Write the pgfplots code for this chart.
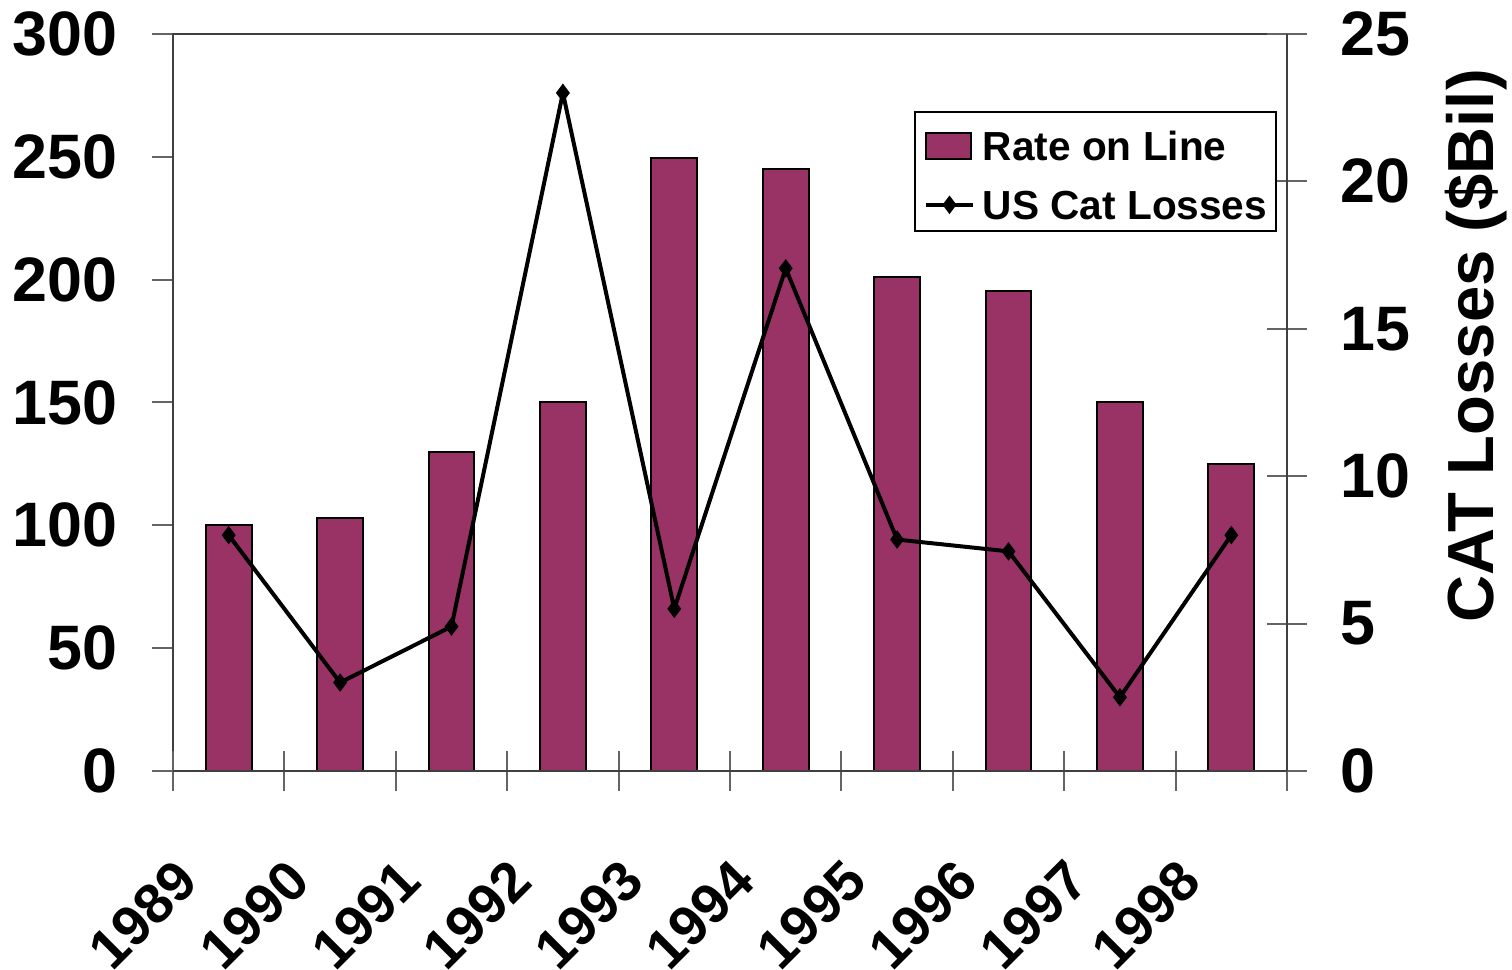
\documentclass[border=0pt]{standalone}
\usepackage{fontspec}
\setmainfont{Liberation Sans}
\usepackage{pgfplots}
\pgfplotsset{compat=1.18}
\definecolor{plum}{RGB}{153,51,102}
\definecolor{tickgray}{RGB}{100,100,100}
\begin{document}
\begin{tikzpicture}
\useasboundingbox (-43.25pt,-49.75pt) rectangle (334.75pt,192.75pt);
\begin{axis}[
  at={(0pt,0pt)}, anchor=south west,
  scale only axis, width=278.5pt, height=184.25pt,
  xmin=-0.5, xmax=9.5, ymin=0, ymax=300,
  ytick={0,50,...,300},
  xtick={-0.5,0.5,...,8.5},
  xticklabels={1989,1990,1991,1992,1993,1994,1995,1996,1997,1998},
  xtick style={draw=none},
  ytick pos=left,
  tick align=outside,
  major tick length=5.25pt,
  ytick style={tickgray, line width=0.5pt},
  axis line style={black!75, line width=0.5pt},
  /pgf/number format/assume math mode=true,
  yticklabel style={font=\fontsize{15.7}{18}\selectfont\bfseries, anchor=east, inner sep=0pt},
  yticklabel shift=8.5pt,
  xticklabel style={font=\fontsize{14}{16}\selectfont\bfseries, rotate=45, anchor=north east, inner sep=0pt},
  xticklabel shift=16pt,
  ybar, bar width=0.41,
  clip=false,
]
\addplot[fill=plum, draw=black, line width=0.5pt] coordinates {(0,100)(1,103)(2,130)(3,150)(4,249.5)(5,245)(6,201)(7,195.5)(8,150)(9,125)};
\end{axis}
\begin{axis}[
  at={(0pt,0pt)}, anchor=south west,
  scale only axis, width=278.5pt, height=184.25pt,
  xmin=-0.5, xmax=9.5, ymin=0, ymax=25,
  axis x line*=bottom, axis y line*=right,
  xtick={-0.5,0.5,...,9.5}, xticklabels={},
  ytick={0,5,...,25},
  tick align=center, major tick length=10pt,
  tick style={tickgray, line width=0.5pt},
  axis line style={black!75, line width=0.5pt},
  /pgf/number format/assume math mode=true,
  yticklabel style={font=\fontsize{15.7}{18}\selectfont\bfseries, anchor=west, inner sep=0pt},
  yticklabel shift=8.25pt,
  ylabel={CAT Losses (\$Bil)},
  ylabel style={at={(axis description cs:1.1697,0.5770)}, anchor=center, font=\fontsize{16.3}{19}\selectfont\bfseries},
  legend style={at={(axis description cs:0.991,0.8955)}, anchor=north east, draw=black, line width=0.4pt, fill=white,
    font=\fontsize{10.15}{12}\selectfont\bfseries, inner xsep=2.25pt, inner ysep=1pt, row sep=1.75pt,
    nodes={inner xsep=0pt, inner ysep=0pt, text height=11.15pt, text depth=1.85pt}},
  legend cell align=left,
  clip=false,
]
\addlegendimage{legend image code/.code={\draw[fill=plum,draw=black,line width=0.4pt] (0pt,-4.25pt) rectangle (11.25pt,2.25pt); \path (13.75pt,-1pt);}}
\addlegendentry{Rate on Line}
\addplot[black, line width=1pt, mark=diamond*, mark size=1.5pt,
  legend image code/.code={\draw[black,line width=1pt] (0pt,-1pt) -- (11.75pt,-1pt); \draw[black,mark=diamond*,mark size=1.5pt] plot coordinates {(5.9pt,-1pt)}; \path (13.75pt,-1pt);}]
  coordinates {(0,8)(1,3)(2,4.9)(3,23)(4,5.5)(5,17.05)(6,7.85)(7,7.45)(8,2.5)(9,8)};
\addlegendentry{US Cat Losses}
\end{axis}
\end{tikzpicture}
\end{document}
